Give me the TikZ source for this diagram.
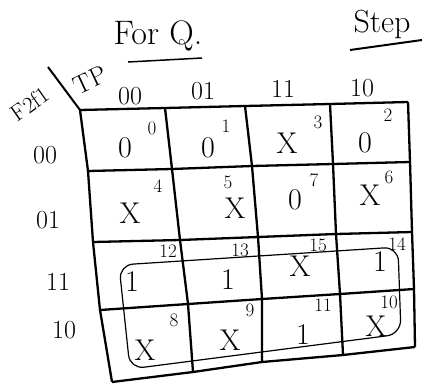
\documentclass[tikz,border=0pt]{standalone}
\begin{document}
\begin{tikzpicture}[x=1pt,y=-1pt,
  gridline/.style={line width=2.3pt},
  val/.style={font=\fontsize{30}{32}\selectfont},
  idx/.style={font=\fontsize{19}{21}\selectfont},
  lab/.style={font=\fontsize{26}{28}\selectfont},
  loopline/.style={line width=1.2pt, rounded corners=14pt}]
\useasboundingbox (0,0) rectangle (422,383);
% grid points
\coordinate (p00) at (80,110);  \coordinate (p01) at (165,108); \coordinate (p02) at (245,106); \coordinate (p03) at (330,104); \coordinate (p04) at (408,102);
\coordinate (p10) at (88,171);  \coordinate (p11) at (172,169); \coordinate (p12) at (252,166); \coordinate (p13) at (333,164); \coordinate (p14) at (410,162);
\coordinate (p20) at (93,242);  \coordinate (p21) at (180,240); \coordinate (p22) at (258,237); \coordinate (p23) at (336,234); \coordinate (p24) at (412,232);
\coordinate (p30) at (100,310); \coordinate (p31) at (188,304); \coordinate (p32) at (262,299); \coordinate (p33) at (340,294); \coordinate (p34) at (414,289);
\coordinate (p40) at (112,382); \coordinate (p41) at (193,372); \coordinate (p42) at (262,362); \coordinate (p43) at (343,355); \coordinate (p44) at (415,347);
\foreach \r in {0,...,4}{
  \draw[gridline] (p\r0) -- (p\r1) -- (p\r2) -- (p\r3) -- (p\r4);
  \draw[gridline] (p0\r) -- (p1\r) -- (p2\r) -- (p3\r) -- (p4\r);
}
% corner
\coordinate (dg1) at (48,67);
\draw[line width=2pt] (dg1) -- (p00);
\node[font=\fontsize{23}{25}\selectfont, rotate=35, inner sep=0pt] (ff) at (30,104) {F2f1};
\node[lab, rotate=25, inner sep=0pt] (tp) at (90,80) {TP};
% column labels
\node[lab] (c0) at (130,96) {00};
\node[lab] (c1) at (203,91) {01};
\node[lab] (c2) at (283,89) {11};
\node[lab] (c3) at (362,88) {10};
% row labels
\node[lab] (r0) at (45,155) {00};
\node[lab] (r1) at (48,220) {01};
\node[lab] (r2) at (58,282) {11};
\node[lab] (r3) at (64,330) {10};
% cells
\node[val] (v0) at (125,148) {0};  \node[idx] (i0) at (152,128) {0};
\node[val] (v1) at (208,148) {0};  \node[idx] (i1) at (226,126) {1};
\node[val] (v3) at (287,143) {X};  \node[idx] (i3) at (318,122) {3};
\node[val] (v2) at (365,143) {0};  \node[idx] (i2) at (388,115) {2};
\node[val] (v4) at (130,213) {X};  \node[idx] (i4) at (158,186) {4};
\node[val] (v5) at (235,208) {X};  \node[idx] (i5) at (228,182) {5};
\node[val] (v7) at (295,200) {0};  \node[idx] (i7) at (314,180) {7};
\node[val] (v6) at (370,195) {X};  \node[idx] (i6) at (389,177) {6};
\node[val] (v12) at (132,282) {1}; \node[idx] (i12) at (168,251) {12};
\node[val] (v13) at (228,280) {1}; \node[idx] (i13) at (240,250) {13};
\node[val] (v15) at (300,266) {X}; \node[idx] (i15) at (318,245) {15};
\node[val] (v14) at (380,262) {1}; \node[idx] (i14) at (397,244) {14};
\node[val] (v8) at (145,350) {X};  \node[idx] (i8) at (174,320) {8};
\node[val] (v9) at (230,340) {X};  \node[idx] (i9) at (250,310) {9};
\node[val] (v11) at (303,335) {1}; \node[idx] (i11) at (323,305) {11};
\node[val] (v10) at (376,326) {X}; \node[idx] (i10) at (389,302) {10};
% loop
\coordinate (l1) at (119,265); \coordinate (l2) at (398,247);
\coordinate (l3) at (401,334); \coordinate (l4) at (130,369);
\draw[loopline] (l1) -- (l2) -- (l3) -- (l4) -- cycle;
% titles
\node[font=\fontsize{34}{36}\selectfont] (title) at (158,36) {For Q.};
\coordinate (u1) at (128,62); \coordinate (u2) at (202,58);
\draw[line width=1.5pt] (u1) -- (u2);
\node[font=\fontsize{32}{34}\selectfont, anchor=west] (step) at (350,24) {Step};
\coordinate (s1) at (350,50); \coordinate (s2) at (422,40);
\draw[line width=2pt] (s1) -- (s2);
\end{tikzpicture}
\end{document}
